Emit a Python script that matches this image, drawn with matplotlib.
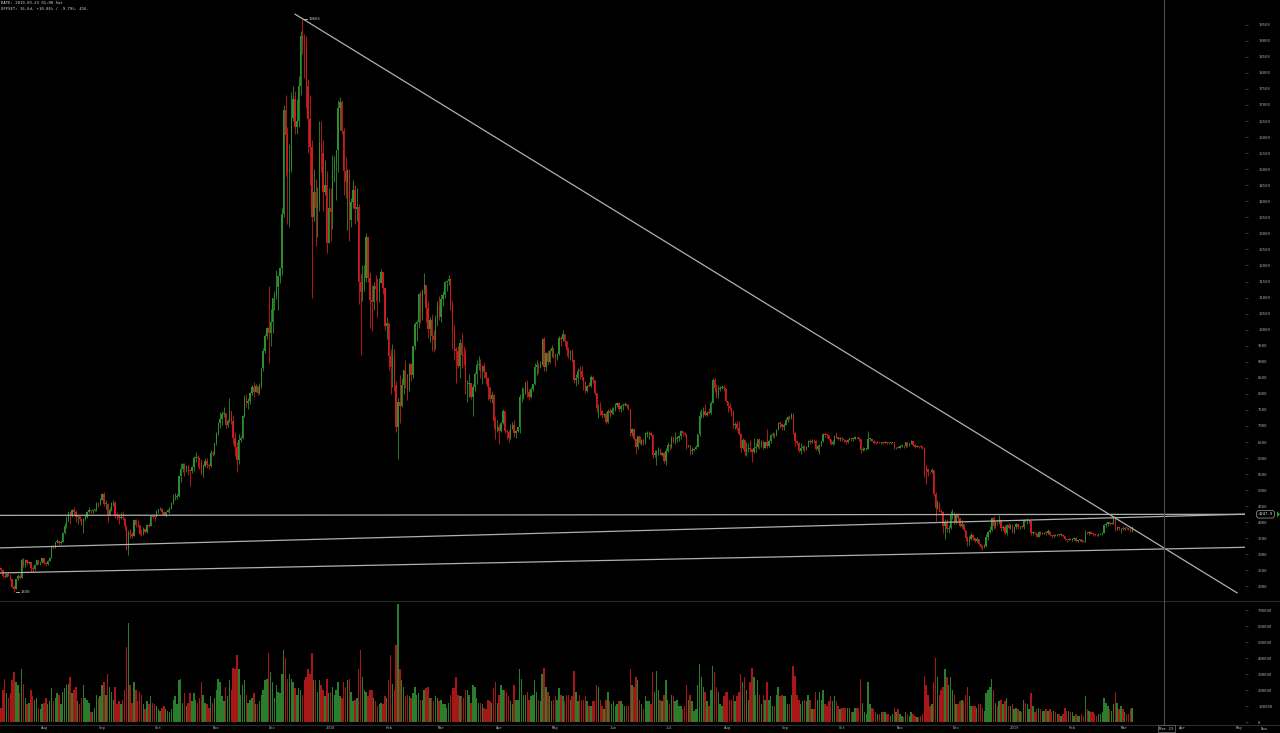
import numpy as np
import pandas as pd
import matplotlib
matplotlib.use("Agg")
import matplotlib.pyplot as plt
import matplotlib.dates as mdates
from matplotlib.lines import Line2D
from matplotlib.patches import Polygon

# daily BTCUSD candles, 2017-07-09 .. 2019-03-05 (one line per month)
start_date = "2017-07-09"
open_first = 2560

close = [
    2506, 2330, 2309, 2398, 2357, 2233, 1975, 1929, 2228, 2318, 2273, 2817, 2667, 2810, 2730, 2754, 2576, 2529, 2671, 2809, 2726, 2757, 2875,
    2718, 2710, 2804, 2895, 3252, 3213, 3378, 3419, 3342, 3381, 3650, 3884, 4073, 4325, 4182, 4376, 4331, 4160, 4193, 4087, 4001, 4100, 4151, 4334, 4371, 4352, 4382, 4382, 4579, 4565, 4703,
    4892, 4578, 4582, 4236, 4376, 4597, 4599, 4228, 4226, 4122, 4161, 4130, 3882, 3154, 3637, 3625, 3582, 4065, 3924, 3905, 3631, 3630, 3792, 3682, 3926, 3892, 4200, 4174, 4163, 4338,
    4403, 4409, 4318, 4229, 4328, 4370, 4426, 4611, 4773, 4782, 4820, 5430, 5650, 5830, 5678, 5725, 5605, 5590, 5708, 6011, 6031, 6008, 5930, 5526, 5750, 5904, 5780, 5753, 6153, 6130, 6468,
    6767, 7078, 7207, 7379, 7407, 7022, 7144, 7459, 7143, 6618, 6357, 5950, 6559, 6635, 7315, 7871, 7708, 7790, 8036, 8200, 8071, 8253, 8038, 8253, 8790, 9330, 9818, 10058, 9888, 10233,
    10975, 11075, 11323, 11657, 11916, 13600, 16850, 16050, 14900, 15000, 16600, 17200, 16300, 16500, 17600, 19150, 18950, 18900, 17600, 16550, 15700, 13500, 14300, 13800, 13900, 15800, 15500, 14300, 14500, 12700, 13800,
    13657, 14982, 15201, 15599, 16900, 17100, 16200, 14950, 14595, 14973, 13405, 13980, 14360, 13772, 13819, 11490, 11188, 11474, 11607, 12899, 11600, 10931, 10868, 11359, 11259, 11171, 11440, 11786, 11296, 10106, 10221,
    9170, 8830, 9174, 8277, 6955, 7754, 7621, 8265, 8736, 8621, 8129, 8926, 8598, 9494, 10166, 10233, 11112, 10551, 11225, 11403, 10690, 10005, 10301, 9813, 9664, 10366, 10725, 10397,
    10951, 11086, 11489, 11512, 11573, 10779, 9965, 9395, 9337, 8866, 9578, 9205, 9194, 8269, 8300, 8338, 7917, 8223, 8630, 8913, 8929, 8728, 8879, 8668, 8495, 8209, 7833, 7954, 7165, 6891, 6973,
    6845, 7083, 7456, 6853, 6811, 6636, 6911, 7023, 6770, 6834, 6968, 7889, 7895, 7986, 8329, 8058, 7902, 8163, 8294, 8845, 8895, 8802, 8931, 9697, 8845, 9281, 8987, 9348, 9419, 9240,
    9120, 9235, 9744, 9700, 9859, 9654, 9374, 9235, 9325, 9043, 8441, 8505, 8724, 8716, 8510, 8368, 8094, 8250, 8247, 8513, 8419, 8042, 7557, 7587, 7480, 7355, 7368, 7135, 7472, 7406, 7494,
    7541, 7644, 7720, 7514, 7633, 7653, 7678, 7624, 7531, 6786, 6906, 6582, 6349, 6675, 6456, 6550, 6499, 6734, 6769, 6776, 6729, 6083, 6162, 6173, 6249, 6093, 6157, 5903, 6218, 6404,
    6385, 6614, 6529, 6597, 6639, 6673, 6857, 6773, 6741, 6329, 6394, 6228, 6238, 6276, 6359, 6742, 7321, 7370, 7466, 7354, 7419, 7418, 7711, 8424, 8181, 7951, 8166, 8193, 8218, 8180, 7780,
    7624, 7567, 7434, 7032, 7068, 6951, 6753, 6305, 6568, 6184, 6295, 6322, 6297, 6199, 6308, 6334, 6580, 6423, 6506, 6308, 6488, 6376, 6534, 6719, 6763, 6707, 6884, 7096, 7047, 6978, 7037,
    7193, 7272, 7260, 7361, 6792, 6529, 6467, 6225, 6300, 6329, 6321, 6352, 6517, 6512, 6543, 6517, 6281, 6371, 6398, 6519, 6734, 6721, 6710, 6595, 6446, 6495, 6676, 6644, 6601, 6625,
    6589, 6556, 6502, 6576, 6622, 6588, 6603, 6653, 6642, 6585, 6256, 6275, 6285, 6290, 6596, 6596, 6544, 6476, 6465, 6489, 6482, 6487, 6475, 6495, 6476, 6474, 6480, 6486, 6332, 6334, 6317,
    6377, 6388, 6361, 6485, 6413, 6461, 6530, 6415, 6339, 6373, 6359, 6351, 6313, 5738, 5648, 5575, 5554, 5623, 4871, 4451, 4602, 4366, 4309, 3880, 4009, 3779, 3820, 4257, 4278, 4017,
    4214, 4139, 3894, 3956, 3753, 3521, 3419, 3476, 3614, 3502, 3424, 3486, 3313, 3242, 3237, 3252, 3545, 3697, 3745, 4134, 3896, 4014, 3998, 4078, 3815, 3857, 3654, 3923, 3821, 3913, 3742,
    3843, 3943, 3837, 3857, 3846, 4076, 4026, 4031, 4035, 3678, 3687, 3661, 3553, 3706, 3631, 3655, 3679, 3657, 3728, 3601, 3576, 3604, 3585, 3600, 3599, 3603, 3583, 3470, 3449, 3487, 3458,
    3487, 3521, 3413, 3436, 3463, 3400, 3393, 3665, 3662, 3711, 3634, 3625, 3609, 3591, 3612, 3634, 3680, 3915, 3947, 3999, 3955, 3988, 4132, 3770, 3837, 3807, 3808, 3794,
    3826, 3824, 3803, 3716, 3860,
]

high = [
    2570, 2530, 2410, 2420, 2430, 2370, 2240, 2060, 2240, 2400, 2400, 2900, 2900, 2870, 2830, 2790, 2760, 2630, 2710, 2820, 2820, 2770, 2900,
    2900, 2760, 2820, 2920, 3290, 3290, 3400, 3480, 3430, 3440, 3700, 3970, 4200, 4330, 4300, 4400, 4480, 4370, 4200, 4200, 4100, 4120, 4250, 4340, 4460, 4380, 4400, 4400, 4620, 4640, 4750,
    4920, 4940, 4700, 4600, 4480, 4640, 4680, 4660, 4330, 4250, 4330, 4360, 4140, 3900, 3750, 3800, 3700, 4110, 4100, 4070, 3920, 3790, 3850, 3800, 3960, 3980, 4220, 4270, 4200, 4370,
    4410, 4470, 4440, 4350, 4360, 4420, 4460, 4630, 4870, 4900, 4870, 5440, 5850, 5850, 5860, 5780, 5770, 5610, 5740, 6070, 6200, 6080, 6040, 5900, 5800, 5990, 5990, 5860, 6250, 6230, 6470,
    6800, 7130, 7450, 7460, 7600, 7390, 7210, 7880, 7470, 7350, 6800, 6490, 6750, 6700, 7330, 7960, 8000, 7860, 8070, 8290, 8360, 8300, 8250, 8350, 8800, 9420, 9860, 10080, 11350, 10640,
    11000, 11200, 11850, 11700, 11950, 13800, 17000, 17300, 16300, 15790, 17400, 17580, 17420, 17200, 17900, 19300, 19666, 19200, 19150, 17800, 17300, 15900, 15000, 14700, 14450, 16500, 16500, 15900, 15300, 14950, 14400,
    14400, 15450, 15400, 15600, 17170, 17250, 17140, 16290, 15390, 15000, 14900, 14100, 14650, 14500, 14400, 13900, 11720, 12000, 12000, 13020, 12800, 11800, 11400, 11500, 11700, 11600, 11600, 11900, 11800, 11300, 10400,
    10200, 9400, 9550, 9400, 8400, 7880, 8600, 8480, 8750, 9050, 8600, 8950, 8950, 9500, 10250, 10300, 11150, 11200, 11270, 11780, 11300, 10900, 10400, 10500, 10000, 10450, 10880, 11060,
    11100, 11200, 11520, 11560, 11700, 11580, 10880, 10150, 9450, 9500, 9700, 9900, 9500, 9400, 8440, 8620, 8330, 8300, 8680, 9050, 9180, 9100, 8900, 8960, 8680, 8500, 8220, 8100, 7990, 7300, 7200,
    7050, 7110, 7520, 7450, 6920, 6880, 7060, 7110, 7180, 6870, 6980, 8000, 8200, 8180, 8390, 8420, 8160, 8200, 8300, 8950, 9040, 8950, 9030, 9750, 9760, 9300, 9380, 9400, 9520, 9440,
    9250, 9280, 9800, 9800, 9990, 9880, 9650, 9460, 9380, 9400, 9040, 8620, 8800, 8880, 8860, 8510, 8400, 8290, 8380, 8580, 8560, 8420, 8040, 7680, 7750, 7500, 7400, 7420, 7540, 7560, 7600,
    7600, 7700, 7760, 7750, 7660, 7700, 7760, 7690, 7690, 7530, 6930, 6900, 6640, 6700, 6690, 6580, 6580, 6810, 6830, 6830, 6800, 6750, 6250, 6260, 6350, 6300, 6200, 6180, 6300, 6500,
    6440, 6690, 6680, 6800, 6700, 6730, 6880, 6840, 6800, 6750, 6400, 6400, 6350, 6320, 6400, 6750, 7470, 7520, 7580, 7680, 7460, 7570, 7780, 8480, 8490, 8300, 8280, 8240, 8290, 8280, 8180,
    7760, 7720, 7580, 7500, 7120, 7150, 7160, 6780, 6620, 6590, 6490, 6460, 6550, 6270, 6630, 6480, 6600, 6620, 6560, 6550, 6500, 6900, 6570, 6740, 6800, 6790, 6910, 7130, 7150, 7070, 7080,
    7250, 7320, 7340, 7400, 7390, 6800, 6560, 6490, 6460, 6400, 6400, 6370, 6560, 6580, 6580, 6600, 6550, 6400, 6450, 6540, 6780, 6800, 6740, 6730, 6600, 6570, 6730, 6800, 6650, 6650,
    6660, 6600, 6570, 6600, 6640, 6620, 6620, 6690, 6660, 6650, 6580, 6330, 6300, 6320, 6850, 6640, 6600, 6560, 6500, 6520, 6540, 6510, 6500, 6530, 6500, 6510, 6500, 6510, 6490, 6360, 6380,
    6400, 6410, 6400, 6500, 6500, 6480, 6560, 6540, 6430, 6400, 6390, 6400, 6380, 6340, 5780, 5620, 5580, 5680, 5620, 4950, 4700, 4640, 4400, 4350, 4100, 4100, 3900, 4350, 4400, 4320,
    4300, 4300, 4140, 4070, 3960, 3760, 3580, 3560, 3680, 3640, 3520, 3550, 3490, 3330, 3290, 3330, 3640, 3730, 3880, 4170, 4200, 4030, 4050, 4240, 4100, 3920, 3900, 3950, 3970, 3950, 3960,
    3850, 3970, 3950, 3880, 3900, 4100, 4110, 4120, 4080, 4050, 3720, 3710, 3670, 3730, 3720, 3690, 3700, 3690, 3800, 3740, 3600, 3620, 3640, 3620, 3640, 3660, 3620, 3580, 3470, 3500, 3510,
    3520, 3530, 3530, 3460, 3480, 3480, 3420, 3770, 3690, 3720, 3720, 3660, 3660, 3620, 3650, 3660, 3700, 3960, 4000, 4010, 4010, 4000, 4160, 4200, 3860, 3860, 3830, 3890,
    3860, 3850, 3830, 3820, 3880,
]

low = [
    2490, 2300, 2250, 2290, 2320, 2200, 1960, 1830, 1920, 2200, 2240, 2270, 2600, 2620, 2680, 2700, 2460, 2450, 2500, 2670, 2690, 2680, 2720,
    2690, 2650, 2680, 2790, 2880, 3180, 3210, 3360, 3300, 3320, 3380, 3620, 3830, 4020, 3950, 4150, 4250, 4000, 3950, 4050, 3900, 3650, 4080, 4120, 4300, 4300, 4300, 4350, 4360, 4480, 4550,
    4690, 4500, 4400, 4000, 4230, 4350, 4520, 4140, 4110, 3950, 4090, 4080, 3760, 3140, 2970, 3520, 3500, 3580, 3850, 3860, 3600, 3560, 3610, 3650, 3680, 3860, 3890, 4120, 4050, 4150,
    4280, 4370, 4230, 4180, 4170, 4310, 4300, 4410, 4580, 4690, 4730, 4790, 5260, 5560, 5450, 5560, 5460, 5120, 5540, 5610, 5890, 5720, 5660, 5480, 5420, 5710, 5700, 5670, 5730, 6050, 6100,
    6400, 6730, 6940, 7030, 7280, 6950, 6960, 7110, 7060, 6450, 6050, 5555, 5800, 6500, 6600, 7290, 7600, 7520, 7670, 7950, 7900, 8050, 7980, 8000, 8170, 8720, 9280, 9700, 8970, 9500,
    9900, 10600, 10950, 10600, 11450, 11700, 13500, 14800, 13300, 13200, 14900, 16500, 16100, 16100, 16300, 17300, 18600, 17850, 16900, 15500, 14500, 11000, 13400, 12600, 12900, 13700, 14900, 13700, 14200, 12400, 12800,
    12750, 13150, 14600, 14050, 14900, 16230, 16100, 14200, 14100, 13100, 12750, 13200, 13800, 13300, 13400, 10800, 9200, 10900, 11200, 11500, 11500, 10050, 9950, 10600, 10900, 10400, 10850, 11500, 11100, 10000, 9700,
    8750, 8000, 8200, 8100, 6800, 5968, 7100, 7600, 8000, 8180, 7800, 8100, 8400, 8500, 9400, 9650, 10050, 10200, 10300, 11100, 10250, 9750, 9600, 9350, 9300, 9400, 10100, 10300,
    10250, 10750, 11000, 11200, 11400, 10600, 9400, 9050, 8350, 8800, 8500, 8800, 8900, 8000, 7750, 7900, 7850, 7300, 8100, 8300, 8750, 8500, 8300, 8500, 8300, 7800, 7750, 7700, 6900, 6600, 6820,
    6430, 6810, 7050, 6770, 6580, 6500, 6600, 6900, 6650, 6640, 6800, 6770, 7760, 7830, 7990, 7890, 7820, 7860, 8090, 8280, 8600, 8650, 8800, 8900, 8720, 8720, 8900, 8950, 9150, 9120,
    8860, 9050, 9200, 9500, 9650, 9480, 9170, 9110, 9050, 9000, 8350, 8230, 8320, 8450, 8440, 8120, 8020, 8070, 8200, 8200, 8330, 7960, 7450, 7260, 7340, 7260, 7270, 7070, 7100, 7280, 7360,
    7380, 7480, 7590, 7460, 7420, 7500, 7610, 7560, 7490, 6690, 6680, 6550, 6120, 6280, 6440, 6400, 6400, 6450, 6650, 6580, 6690, 6000, 6030, 5780, 6110, 6080, 6050, 5860, 5780, 6200,
    6250, 6300, 6460, 6440, 6500, 6540, 6600, 6700, 6700, 6290, 6330, 6100, 6140, 6210, 6300, 6350, 6700, 7250, 7270, 7320, 7300, 7380, 7380, 7700, 8050, 7860, 7880, 8100, 8150, 8090, 7750,
    7440, 7500, 7300, 6950, 6900, 6880, 6710, 6200, 6270, 6100, 6060, 6180, 6180, 5880, 6170, 6200, 6320, 6290, 6350, 6280, 6300, 6300, 6360, 6470, 6660, 6640, 6690, 6880, 6950, 6870, 6880,
    7020, 7120, 7210, 7230, 6750, 6380, 6400, 6200, 6130, 6250, 6200, 6250, 6340, 6430, 6480, 6460, 6260, 6230, 6140, 6380, 6500, 6670, 6630, 6570, 6400, 6400, 6450, 6610, 6550, 6540,
    6540, 6500, 6450, 6480, 6550, 6540, 6520, 6590, 6600, 6530, 6150, 6210, 6250, 6260, 6280, 6520, 6520, 6430, 6440, 6460, 6470, 6450, 6440, 6460, 6450, 6450, 6450, 6460, 6280, 6290, 6300,
    6300, 6340, 6320, 6330, 6360, 6390, 6450, 6390, 6300, 6330, 6300, 6320, 6280, 5400, 5200, 5450, 5500, 5540, 4820, 4048, 4400, 4330, 4250, 3650, 3480, 3700, 3660, 3800, 4100, 3950,
    3950, 4050, 3850, 3830, 3720, 3420, 3270, 3280, 3460, 3450, 3380, 3400, 3290, 3190, 3122, 3200, 3230, 3450, 3650, 3720, 3780, 3810, 3920, 3960, 3720, 3750, 3620, 3600, 3780, 3790, 3680,
    3680, 3800, 3800, 3790, 3830, 3800, 4000, 3960, 3990, 3600, 3590, 3620, 3530, 3550, 3600, 3620, 3620, 3600, 3640, 3560, 3520, 3540, 3560, 3560, 3580, 3580, 3530, 3440, 3390, 3440, 3440,
    3420, 3460, 3390, 3400, 3420, 3370, 3370, 3380, 3620, 3610, 3620, 3580, 3580, 3570, 3580, 3600, 3600, 3670, 3860, 3880, 3910, 3940, 3940, 3740, 3750, 3770, 3660, 3750,
    3770, 3780, 3760, 3690, 3700,
]

# volume in thousands
volume_k = [
    90, 200, 270, 180, 150, 180, 260, 310, 250, 230, 180, 330, 240, 150, 110, 120, 200, 160, 140, 150, 90, 80, 110,
    120, 150, 110, 130, 210, 130, 150, 180, 170, 110, 190, 210, 230, 240, 280, 180, 200, 220, 130, 110, 150, 230, 150, 140, 120, 60, 60, 90, 170, 150, 160,
    230, 250, 170, 300, 220, 190, 140, 220, 110, 130, 110, 140, 200, 470, 620, 230, 120, 250, 200, 130, 190, 170, 110, 80, 130, 110, 160, 120, 110, 100,
    80, 70, 90, 100, 80, 70, 60, 80, 140, 160, 110, 260, 270, 120, 180, 100, 120, 180, 130, 180, 140, 120, 150, 250, 170, 120, 110, 90, 160, 120, 150,
    200, 270, 250, 160, 130, 220, 160, 260, 200, 340, 330, 420, 330, 170, 230, 260, 170, 120, 140, 150, 180, 110, 110, 130, 170, 200, 260, 270, 430, 310,
    250, 150, 230, 190, 180, 300, 450, 400, 270, 300, 270, 250, 210, 170, 210, 200, 170, 260, 280, 330, 300, 430, 260, 260, 190, 260, 230, 200, 160, 270, 180,
    190, 220, 170, 200, 250, 160, 150, 250, 220, 260, 270, 190, 130, 140, 150, 330, 450, 280, 200, 190, 160, 200, 200, 150, 130, 100, 110, 120, 110, 160, 150,
    260, 420, 240, 200, 480, 740, 330, 260, 220, 160, 170, 160, 150, 180, 220, 170, 180, 140, 140, 200, 210, 220, 150, 150, 130, 160, 150, 130,
    140, 110, 110, 90, 120, 170, 210, 210, 280, 170, 160, 160, 150, 200, 200, 170, 120, 230, 220, 150, 120, 120, 110, 90, 80, 140, 130, 120, 210, 250, 120,
    170, 230, 200, 200, 190, 160, 130, 110, 230, 140, 140, 330, 270, 170, 170, 190, 140, 160, 170, 260, 190, 140, 130, 300, 340, 220, 190, 160, 130, 140,
    160, 140, 210, 170, 160, 130, 170, 170, 140, 160, 320, 190, 130, 170, 140, 140, 160, 130, 100, 100, 130, 130, 230, 220, 140, 100, 80, 140, 190, 130, 110,
    130, 100, 110, 130, 130, 110, 100, 100, 100, 330, 230, 220, 280, 260, 140, 110, 80, 160, 130, 130, 110, 310, 190, 320, 200, 140, 130, 170, 260, 140,
    110, 170, 160, 130, 140, 100, 100, 80, 100, 230, 140, 170, 130, 70, 80, 230, 360, 280, 220, 190, 130, 100, 200, 350, 310, 220, 190, 110, 100, 160, 190,
    190, 140, 140, 170, 130, 160, 190, 300, 250, 280, 200, 140, 250, 340, 280, 170, 260, 170, 110, 170, 140, 250, 140, 160, 100, 100, 170, 220, 160, 170, 160,
    160, 110, 110, 170, 350, 290, 170, 140, 110, 130, 140, 130, 170, 140, 80, 80, 190, 140, 190, 140, 200, 110, 100, 130, 160, 130, 160, 130, 100, 80,
    90, 90, 90, 90, 90, 60, 60, 90, 90, 90, 270, 120, 60, 50, 250, 110, 90, 80, 60, 50, 50, 60, 60, 60, 50, 50, 40, 50, 90, 60, 80,
    50, 40, 30, 60, 50, 40, 60, 50, 40, 30, 30, 40, 50, 290, 230, 170, 100, 110, 250, 400, 280, 170, 200, 220, 330, 280, 230, 280, 200, 170,
    110, 110, 130, 140, 130, 170, 220, 160, 100, 100, 100, 90, 110, 110, 90, 70, 180, 200, 220, 270, 200, 120, 100, 130, 140, 110, 130, 150, 100, 100, 110,
    80, 90, 80, 70, 60, 140, 120, 110, 80, 180, 100, 60, 80, 90, 80, 70, 70, 80, 70, 80, 60, 70, 60, 50, 50, 40, 50, 90, 70, 70, 60,
    60, 40, 50, 40, 40, 50, 40, 160, 80, 70, 60, 60, 50, 40, 50, 50, 60, 150, 120, 100, 80, 70, 110, 190, 120, 80, 100, 80,
    60, 50, 50, 80, 90,
]

month_dates = ["2017-08-01", "2017-09-01", "2017-10-01", "2017-11-01", "2017-12-01", "2018-01-01",
               "2018-02-01", "2018-03-01", "2018-04-01", "2018-05-01", "2018-06-01", "2018-07-01",
               "2018-08-01", "2018-09-01", "2018-10-01", "2018-11-01", "2018-12-01", "2019-01-01",
               "2019-02-01", "2019-03-01", "2019-04-01", "2019-05-01"]
month_labels = ["Aug", "Sep", "Oct", "Nov", "Dec", "2018", "Feb", "Mar", "Apr", "May", "Jun", "Jul",
                "Aug", "Sep", "Oct", "Nov", "Dec", "2019", "Feb", "Mar", "Apr", "May"]

price_ticks = list(range(2000, 20000, 500))
volume_ticks = list(range(0, 800000, 100000))

# drawn lines: (start date, start price, end date, end price)
trend_lines = [
    ("2017-12-13", 19830, "2019-04-30", 1800),
    ("2017-07-08", 4215, "2019-05-04", 4248),
    ("2017-07-08", 3200, "2019-05-04", 4250),
    ("2017-07-08", 2420, "2019-05-04", 3220),
]
cursor_pos = "2019-03-22"
cursor_label = "Mar 23"
last_price = 4247.9
peak_date, peak_price = "2017-12-17", 19666
bottom_date, bottom_price = "2017-07-16", 1830

# ---------------------------------------------------------------
n = min(len(close), len(high), len(low), len(volume_k))
dates = pd.date_range(start_date, periods=n)
x = mdates.date2num(dates)
c = np.array(close[:n], dtype=float)
o = np.concatenate([[open_first], c[:-1]])
h = np.maximum(np.array(high[:n], dtype=float), np.maximum(o, c))
l = np.minimum(np.array(low[:n], dtype=float), np.minimum(o, c))
vol = np.array(volume_k[:n], dtype=float) * 1000
up = c >= o

green, red = "#2c8e2c", "#cc1d1d"
vgreen, vred = "#2a7d2a", "#a81717"
txt = "#a8a8a8"
mono = "DejaVu Sans Mono"
fs = 2.8

W, H = 1280, 733


def fig_box(x0, y0, x1, y1):
    return [x0 / W, 1 - y1 / H, (x1 - x0) / W, (y1 - y0) / H]


fig = plt.figure(figsize=(12.8, 7.33), dpi=100, facecolor="black")
ax = fig.add_axes(fig_box(0, 0, 1245, 600), facecolor="black")
axv = fig.add_axes(fig_box(0, 602, 1245, 724), facecolor="black", sharex=ax)

aug1 = mdates.date2num(pd.Timestamp("2017-08-01"))
day_px = 1.873
ax.set_xlim(aug1 - 44 / day_px, aug1 + (1245 - 44) / day_px)
ax.set_ylim(1578, 20270)
axv.set_ylim(-12500, 750000)

# candles
cols = np.where(up, green, red)
body_lo = np.minimum(o, c)
body_h = np.maximum(np.abs(c - o), 25)
ax.vlines(x, l, h, colors=cols, linewidth=0.6)
ax.bar(x, body_h, bottom=body_lo, width=0.72, color=cols, linewidth=0)

# volume
axv.bar(x, vol, width=0.78, color=np.where(up, vgreen, vred), linewidth=0)

# trend lines
for d0, p0, d1, p1 in trend_lines:
    ax.plot([pd.Timestamp(d0), pd.Timestamp(d1)], [p0, p1], color="#b0b0b0", linewidth=0.9)

# high / low markers
px = mdates.date2num(pd.Timestamp(peak_date))
ax.plot([px + 0.8, px + 2.6], [peak_price, peak_price], color="#cccccc", linewidth=0.6)
ax.text(px + 3.2, peak_price, str(peak_price), color="#cccccc", fontsize=fs, family=mono, va="center")
bx = mdates.date2num(pd.Timestamp(bottom_date))
ax.plot([bx + 0.8, bx + 2.6], [bottom_price, bottom_price], color="#cccccc", linewidth=0.6)
ax.text(bx + 3.2, bottom_price, str(bottom_price), color="#cccccc", fontsize=fs, family=mono, va="center")

# axes styling
for a in (ax, axv):
    for s in a.spines.values():
        s.set_visible(False)
    a.yaxis.tick_right()
    a.tick_params(axis="y", direction="out", length=2, width=0.5, color="#555555",
                  labelcolor=txt, labelsize=fs, pad=7.5)

ax.set_yticks(price_ticks)
ax.set_yticklabels([str(p) for p in price_ticks], family=mono)
axv.set_yticks(volume_ticks)
axv.set_yticklabels([str(v) for v in volume_ticks], family=mono)
ax.tick_params(axis="x", bottom=False, labelbottom=False)
axv.set_xticks(mdates.date2num(pd.to_datetime(month_dates)))
axv.set_xticklabels(month_labels, family=mono)
axv.tick_params(axis="x", length=0, pad=1.2, labelsize=fs, labelcolor=txt)

# pane separators
fig.add_artist(Line2D([0, 1], [1 - 600.5 / H] * 2, color="#2c2c2c", linewidth=0.8))
fig.add_artist(Line2D([0, 1], [1 - 724.5 / H] * 2, color="#2c2c2c", linewidth=0.8))

# cursor line and its date box
cx = ax.transData.transform((mdates.date2num(pd.Timestamp(cursor_pos)), 0))[0]
cx_fig = fig.transFigure.inverted().transform((cx, 0))[0]
fig.add_artist(Line2D([cx_fig, cx_fig], [0, 1], color="#4a4a4a", linewidth=0.8))
fig.text(cx_fig + 2 / W, 1 - 728.5 / H, cursor_label, color="#cccccc", fontsize=fs, family=mono,
         ha="center", va="center",
         bbox=dict(boxstyle="square,pad=0.35", fc="black", ec="#777777", lw=0.5))
fig.text(1264 / W, 1 - 728.5 / H, "Now", color=txt, fontsize=fs, family=mono, ha="center", va="center")

# last price label
ly = ax.transData.transform((0, last_price))[1]
ly_fig = fig.transFigure.inverted().transform((0, ly))[1]
fig.text(1265.5 / W, ly_fig, f"{last_price:.1f}", color="#dddddd", fontsize=fs, family=mono,
         ha="center", va="center",
         bbox=dict(boxstyle="round,pad=0.45,rounding_size=0.6", fc="black", ec="#8a8a8a", lw=0.6))
fig.add_artist(Polygon([[1277 / W, ly_fig + 3 / H], [1280 / W, ly_fig], [1277 / W, ly_fig - 3 / H]],
                       closed=True, transform=fig.transFigure, color="#2f9a2f", linewidth=0))

# header texts
fig.text(1 / W, 1 - 3.5 / H, "DATE: 2019-03-23 01:00 Sat", color="#dddddd", fontsize=fs,
         family=mono, va="center")
fig.text(1 / W, 1 - 9 / H, "OFFSET: 16.6d, +10.86% / -9.79%, 416.", color="#dddddd", fontsize=fs,
         family=mono, va="center")

fig.savefig("out.png", dpi=100, facecolor="black")
